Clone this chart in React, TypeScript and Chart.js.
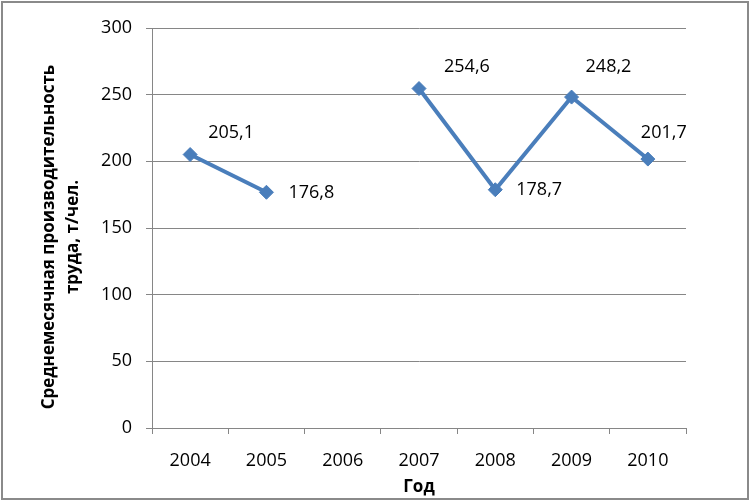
import React, { useEffect, useRef } from "react";
import { Chart, registerables } from "chart.js";

Chart.register(...registerables);

const categories = ["2004", "2005", "2006", "2007", "2008", "2009", "2010"];
const productivity: (number | null)[] = [205.1, 176.8, null, 254.6, 178.7, 248.2, 201.7];
const yMin = 0;
const yMax = 300;
const yStep = 50;
const yTitleLines = ["Среднемесячная производительность", "труда, т/чел."];
const xTitle = "Год";
// label placement relative to each point: [dx to left edge, dy to text middle]
const labelOffsets: [number, number][] = [
  [18, -22],
  [22, 1],
  [0, 0],
  [25, -22],
  [21, 0],
  [14, -30],
  [-7, -26],
];

const FONT = "'Open Sans', 'Liberation Sans', sans-serif";
const LINE_COLOR = "#4a7ebb";
const GRID_COLOR = "#868686";

const fmt = (v: number) => v.toFixed(1).replace(".", ",");

const decorPlugin = {
  id: "decor",
  beforeDraw(chart: any) {
    const ctx = chart.ctx;
    ctx.save();
    ctx.fillStyle = "#ffffff";
    ctx.fillRect(0, 0, chart.width, chart.height);
    ctx.restore();
  },
  afterDatasetsDraw(chart: any) {
    const ctx = chart.ctx;
    const meta = chart.getDatasetMeta(0);
    ctx.save();
    ctx.font = `18px ${FONT}`;
    ctx.fillStyle = "#000000";
    ctx.textAlign = "left";
    ctx.textBaseline = "middle";
    meta.data.forEach((pt: any, i: number) => {
      const v = productivity[i];
      if (v === null || v === undefined) return;
      const [dx, dy] = labelOffsets[i];
      ctx.fillText(fmt(v), pt.x + dx, pt.y + dy);
    });
    ctx.restore();
  },
  afterDraw(chart: any) {
    const ctx = chart.ctx;
    const area = chart.chartArea;
    ctx.save();
    // axis titles
    ctx.fillStyle = "#000000";
    ctx.font = `bold 17px ${FONT}`;
    ctx.textAlign = "center";
    ctx.textBaseline = "middle";
    ctx.fillText(xTitle, (area.left + area.right) / 2, 487);
    ctx.save();
    ctx.translate(49, 237);
    ctx.rotate(-Math.PI / 2);
    ctx.fillText(yTitleLines[0], 0, 0);
    ctx.fillText(yTitleLines[1], 0, 24);
    ctx.restore();
    // outer border
    ctx.strokeStyle = "#8a8a8a";
    ctx.lineWidth = 2;
    ctx.strokeRect(2, 2, chart.width - 4, chart.height - 4);
    ctx.restore();
  },
};

export default function App() {
  const ref = useRef<HTMLCanvasElement | null>(null);
  useEffect(() => {
    if (!ref.current) return;
    const chart = new Chart(ref.current, {
      type: "line",
      data: {
        labels: categories,
        datasets: [
          {
            data: productivity,
            borderColor: LINE_COLOR,
            backgroundColor: LINE_COLOR,
            borderWidth: 4,
            pointStyle: "rectRot",
            pointRadius: 7,
            pointBackgroundColor: LINE_COLOR,
            pointBorderColor: LINE_COLOR,
            pointBorderWidth: 1,
            spanGaps: false,
            tension: 0,
          },
        ],
      },
      options: {
        responsive: false,
        animation: false,
        layout: { padding: { left: 0, right: 64, top: 28, bottom: 0 } },
        plugins: {
          legend: { display: false },
          tooltip: { enabled: false },
          title: { display: false },
        },
        scales: {
          x: {
            offset: true,
            grid: {
              offset: true,
              display: true,
              drawOnChartArea: false,
              drawTicks: true,
              tickLength: 6,
              color: GRID_COLOR,
              lineWidth: 1,
            },
            border: { display: true, color: GRID_COLOR, width: 1 },
            ticks: {
              color: "#000000",
              font: { family: FONT, size: 18 },
              padding: 16,
              maxRotation: 0,
              autoSkip: false,
            },
            afterFit(scale: any) {
              scale.height = 73;
            },
          },
          y: {
            min: yMin,
            max: yMax,
            grid: {
              display: true,
              drawOnChartArea: true,
              drawTicks: true,
              tickLength: 6,
              color: GRID_COLOR,
              lineWidth: 1,
            },
            border: { display: true, color: GRID_COLOR, width: 1 },
            ticks: {
              stepSize: yStep,
              color: "#000000",
              font: { family: FONT, size: 18 },
              padding: 14,
            },
            afterFit(scale: any) {
              scale.width = 152;
            },
          },
        },
      },
      plugins: [decorPlugin],
    } as any);
    return () => chart.destroy();
  }, []);
  return (
    <div style={{ position: "absolute", left: 0, top: 0, width: 750, height: 501 }}>
      <canvas ref={ref} width={750} height={501} style={{ display: "block" }} />
    </div>
  );
}
